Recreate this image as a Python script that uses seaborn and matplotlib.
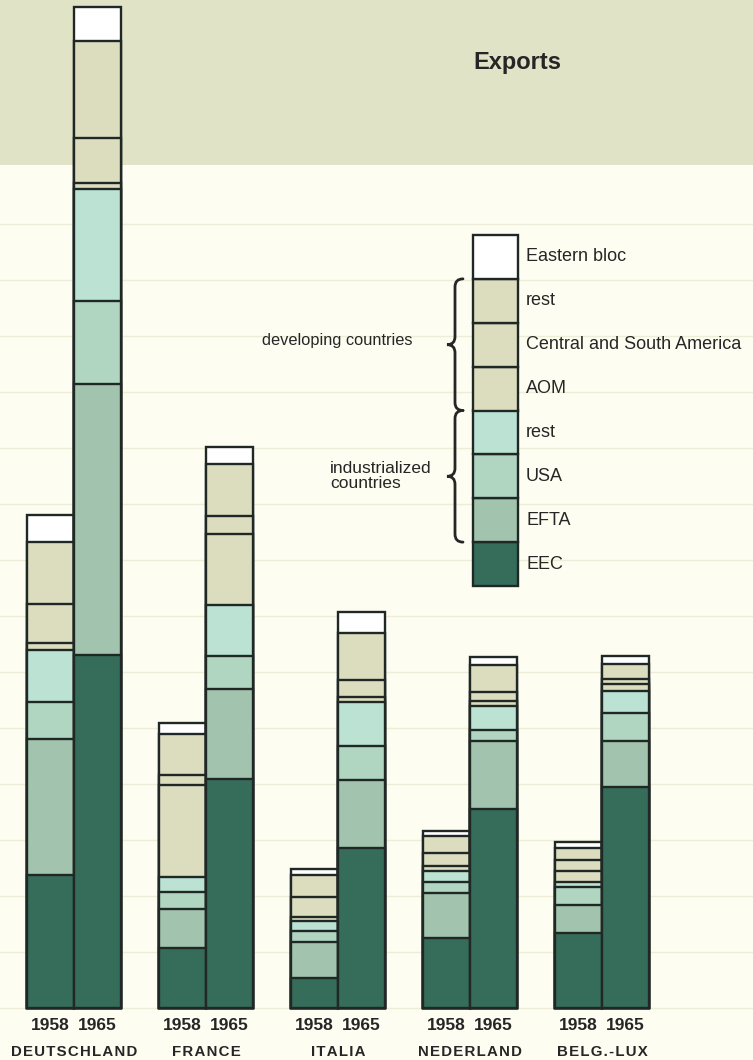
import numpy as np
import pandas as pd
import matplotlib
matplotlib.use("Agg")
import matplotlib.pyplot as plt
from matplotlib.path import Path
from matplotlib.patches import PathPatch, Rectangle
import seaborn as sns

# ---------------- data (US $ 1000 million) ----------------
countries = ["DEUTSCHLAND", "FRANCE", "ITALIA", "NEDERLAND", "BELG.-LUX"]
years = ["1958", "1965"]
segments = ["EEC", "EFTA", "USA", "rest (ind.)", "AOM",
            "Central and South America", "rest (dev.)", "Eastern bloc"]
legend_labels = ["EEC", "EFTA", "USA", "rest", "AOM",
                 "Central and South America", "rest", "Eastern bloc"]

# values per country, order: 1958, 1965
eec          = {"1958": [2.38, 1.07, 0.54, 1.25, 1.34], "1965": [6.30, 4.09, 2.86, 3.55, 3.95]}
efta         = {"1958": [2.43, 0.70, 0.63, 0.80, 0.50], "1965": [4.84, 1.61, 1.21, 1.21, 0.82]}
usa          = {"1958": [0.66, 0.30, 0.20, 0.20, 0.32], "1965": [1.48, 0.59, 0.61, 0.21, 0.50]}
rest_ind     = {"1958": [0.93, 0.27, 0.18, 0.20, 0.09], "1965": [2.00, 0.91, 0.79, 0.43, 0.39]}
aom          = {"1958": [0.11, 1.64, 0.07, 0.09, 0.20], "1965": [0.11, 1.27, 0.09, 0.09, 0.13]}
csa          = {"1958": [0.70, 0.18, 0.36, 0.23, 0.20], "1965": [0.80, 0.32, 0.30, 0.16, 0.09]}
rest_dev     = {"1958": [1.11, 0.73, 0.39, 0.30, 0.20], "1965": [1.73, 0.93, 0.84, 0.48, 0.27]}
eastern_bloc = {"1958": [0.48, 0.20, 0.11, 0.09, 0.11], "1965": [0.61, 0.30, 0.38, 0.13, 0.13]}
series = [eec, efta, usa, rest_ind, aom, csa, rest_dev, eastern_bloc]

colors = ["#356c5a", "#a2c3ad", "#b0d6c2", "#bbe2d2",
          "#dcdcbf", "#dcdcbf", "#dcdcbf", "#ffffff"]
edge = "#1f2824"

# ---------------- build long table ----------------
rows = []
for ci, c in enumerate(countries):
    for y in years:
        rec = {"country": c, "year": y}
        for s, d in zip(segments, series):
            rec[s] = d[y][ci]
        rows.append(rec)
df = pd.DataFrame(rows)
cum = df[segments].cumsum(axis=1)
for s in segments:
    df["cum_" + s] = cum[s]

# ---------------- figure ----------------
W, H = 753, 1060
fig = plt.figure(figsize=(W / 100, H / 100), dpi=100)
fig.patch.set_facecolor("#fdfdf1")
ax = fig.add_axes([0, 0, 1, 1])
ax.set_facecolor("none")

# pixel layout helpers (decoration only)
X0, XS = 74.0, 132.0     # pixel of first group centre, pixels per group
Y0, YS = 1008.0, 56.0    # baseline pixel, pixels per unit
def dx(px):
    return (px - X0) / XS
def dy(py):
    return (Y0 - py) / YS

# background band and grid lines
ax.axhspan(dy(165), dy(-10), color="#e1e3c6", zorder=0, lw=0)
for g in range(0, 15):
    ax.axhline(g, color="#eeeed8", lw=1.0, zorder=0.5)

# stacked bars: draw cumulative totals from top segment downwards
for s, col in reversed(list(zip(segments, colors))):
    sns.barplot(data=df, x="country", y="cum_" + s, hue="year",
                hue_order=years, order=countries,
                palette=[col, col], width=0.712, errorbar=None,
                edgecolor=edge, linewidth=1.7, legend=False,
                saturation=1, ax=ax, zorder=2)

ax.set_xlim(dx(0), dx(W))
ax.set_ylim(dy(H), dy(0))
ax.set_axis_off()

font = ["Liberation Sans", "DejaVu Sans"]
narrow = ["Liberation Sans Narrow", "Liberation Sans", "DejaVu Sans"]
tc = "#262626"

# title
ax.text(dx(473), dy(63), "Exports", fontsize=17, fontweight="bold",
        family=font, color=tc, ha="left", va="center")

# year and country labels
half = 0.712 / 4
for i, c in enumerate(countries):
    for k, y in enumerate(years):
        ax.text(i + (k * 2 - 1) * half, dy(1026), y, ha="center", va="center",
                fontsize=12.5, fontweight="bold", family=narrow, color=tc)
    spaced = "\u200a".join(c)
    ax.text(i, dy(1052), spaced, ha="center", va="center", fontsize=10.8,
            fontweight="bold", family=font, color=tc)

# ---------------- legend (stacked key) ----------------
lx0, lx1 = 473, 518
ltop, lbot = 235, 586
n = len(segments)
cell = (lbot - ltop) / n
for j, (lab, col) in enumerate(zip(legend_labels, colors)):
    y_bot_px = lbot - j * cell
    y_top_px = y_bot_px - cell
    ax.add_patch(Rectangle((dx(lx0), dy(y_bot_px)), dx(lx1) - dx(lx0),
                           dy(y_top_px) - dy(y_bot_px), facecolor=col,
                           edgecolor=edge, lw=1.7, zorder=3))
    ax.text(dx(526), dy((y_top_px + y_bot_px) / 2), lab, ha="left", va="center",
            fontsize=13, family=font, color=tc)

def brace(y_top, y_bot, x_right=463, x_mid=455, x_tip=447):
    ym = (y_top + y_bot) / 2
    r = 8
    pts = [(x_right, y_top), (x_mid, y_top), (x_mid, y_top + r),
           (x_mid, ym - r), (x_mid, ym), (x_tip, ym),
           (x_mid, ym), (x_mid, ym + r),
           (x_mid, y_bot - r), (x_mid, y_bot), (x_right, y_bot)]
    codes = [Path.MOVETO, Path.CURVE3, Path.CURVE3,
             Path.LINETO, Path.CURVE3, Path.CURVE3,
             Path.CURVE3, Path.CURVE3,
             Path.LINETO, Path.CURVE3, Path.CURVE3]
    verts = [(dx(px), dy(py)) for px, py in pts]
    ax.add_patch(PathPatch(Path(verts, codes), fill=False, lw=2.0,
                           edgecolor=tc, zorder=3, capstyle="round"))

brace(ltop + cell, ltop + 4 * cell)
brace(ltop + 4 * cell, ltop + 7 * cell)

ax.text(dx(412), dy(341), "developing countries", ha="right", va="center",
        fontsize=11.8, family=font, color=tc)
ax.text(dx(330), dy(476), "industrialized\ncountries", ha="left", va="center",
        fontsize=12.5, family=font, color=tc, linespacing=1.05)

fig.savefig("out.png", dpi=100, facecolor=fig.get_facecolor())
